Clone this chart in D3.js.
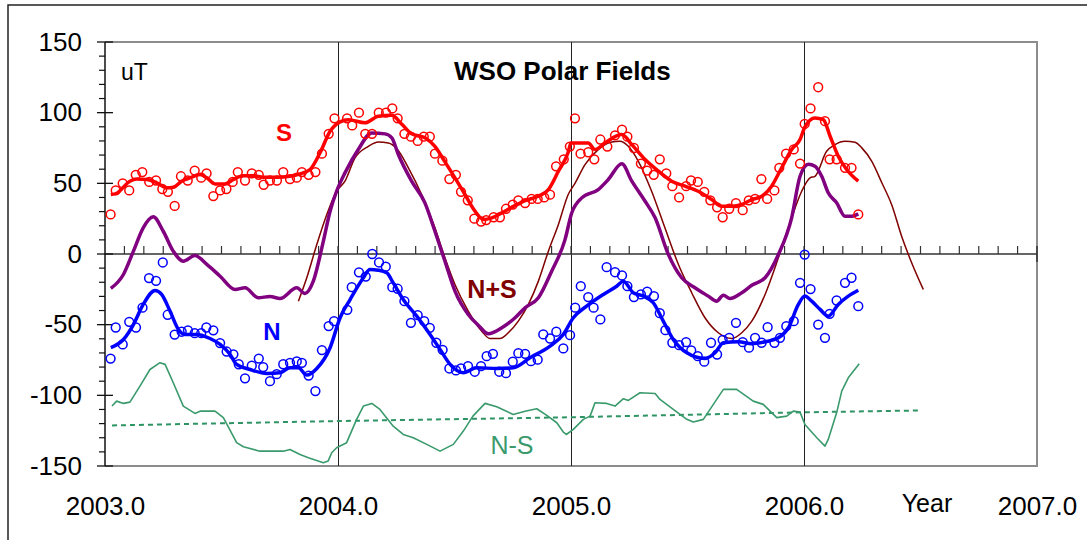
<!DOCTYPE html>
<html><head><meta charset="utf-8">
<script src="https://cdn.jsdelivr.net/npm/d3@7"></script>
<style>
html,body{margin:0;padding:0;background:#fff;}
svg{display:block;font-family:"Liberation Sans",Arial,sans-serif;}
</style></head>
<body>
<svg id="chart" width="1087" height="540"></svg>
<script>
// ---------- data ----------
const sYears = [2003.024,2003.046,2003.076,2003.104,2003.132,2003.160,2003.190,2003.219,2003.246,2003.270,2003.299,2003.326,2003.355,2003.385,2003.413,2003.436,2003.465,2003.494,2003.521,2003.548,2003.570,2003.601,2003.630,2003.660,2003.681,2003.708,2003.738,2003.765,2003.794,2003.823,2003.845,2003.874,2003.903,2003.931,2003.960,2003.985,2004.039,2004.061,2004.090,2004.117,2004.146,2004.175,2004.206,2004.233,2004.256,2004.285,2004.313,2004.342,2004.368,2004.394,2004.416,2004.448,2004.478,2004.506,2004.528,2004.557,2004.585,2004.614,2004.636,2004.668,2004.695,2004.721,2004.750,2004.774,2004.803,2004.831,2004.857,2004.885,2004.910,2004.936,2004.969,2004.995,2005.017,2005.041,2005.074,2005.100,2005.126,2005.156,2005.189,2005.219,2005.242,2005.270,2005.300,2005.327,2005.355,2005.381,2005.409,2005.435,2005.464,2005.494,2005.515,2005.544,2005.572,2005.598,2005.627,2005.651,2005.679,2005.708,2005.737,2005.763,2005.790,2005.817,2005.842,2005.873,2005.894,2005.923,2005.956,2005.983,2006.003,2006.028,2006.061,2006.090,2006.110,2006.140,2006.176,2006.204,2006.233];
const sValues = [28,45,50,45,56,58,51,52,46,44,34,55,52,59,54,57,41,45,46,51,58,52,57,56,49,52,52,58,53,54,58,56,58,71,85,96,96,91,100,85,85,100,100,103,96,85,83,80,83,83,71,66,53,56,44,38,25,23,24,26,26,32,35,38,36,39,39,40,42,62,67,76,96,71,72,67,81,76,84,88,83,75,64,59,56,67,57,48,40,48,52,51,44,38,33,26,32,36,31,38,39,53,39,45,61,71,74,64,92,103,118,94,67,67,61,61,28];

const nYears = [2003.024,2003.046,2003.076,2003.104,2003.133,2003.161,2003.189,2003.219,2003.248,2003.269,2003.299,2003.329,2003.356,2003.385,2003.413,2003.435,2003.465,2003.494,2003.522,2003.551,2003.574,2003.601,2003.630,2003.660,2003.679,2003.708,2003.737,2003.765,2003.794,2003.823,2003.845,2003.874,2003.903,2003.931,2003.960,2003.983,2004.040,2004.059,2004.090,2004.119,2004.147,2004.176,2004.205,2004.233,2004.256,2004.285,2004.313,2004.342,2004.370,2004.394,2004.422,2004.449,2004.478,2004.506,2004.528,2004.558,2004.587,2004.614,2004.638,2004.665,2004.692,2004.721,2004.750,2004.774,2004.803,2004.828,2004.857,2004.881,2004.910,2004.937,2004.967,2004.996,2005.018,2005.042,2005.074,2005.097,2005.126,2005.153,2005.189,2005.219,2005.242,2005.270,2005.300,2005.327,2005.356,2005.381,2005.405,2005.435,2005.464,2005.494,2005.516,2005.544,2005.572,2005.601,2005.627,2005.651,2005.679,2005.708,2005.737,2005.764,2005.790,2005.818,2005.844,2005.873,2005.897,2005.924,2005.956,2005.983,2006.003,2006.028,2006.061,2006.090,2006.110,2006.140,2006.176,2006.204,2006.233];
const nValues = [-74,-52,-64,-48,-52,-38,-17,-19,-6,-43,-57,-55,-54,-56,-56,-52,-54,-63,-69,-71,-78,-88,-79,-74,-80,-90,-85,-78,-77,-76,-77,-86,-97,-68,-51,-47.5,-39.5,-23.5,-13,-16,0,-6,-9,-23.5,-24.6,-33.4,-48.7,-43.3,-47.5,-52.2,-62.8,-67.8,-81,-82.4,-81,-79.4,-83.3,-79.4,-72.3,-70.6,-83.3,-84.3,-76.2,-70.2,-70.6,-75.8,-74.8,-56.9,-59.8,-55,-66.8,-57.4,-38,-22.8,-30.5,-38,-46.3,-9.3,-12.9,-15.2,-22.8,-30.5,-28.6,-26.7,-29.8,-41.9,-53.9,-62.8,-64.5,-62.4,-68.2,-72.3,-76.2,-62.8,-71.1,-60.7,-59.3,-48.7,-62.4,-66.3,-59.3,-62.8,-51.8,-62.8,-59.3,-51.1,-47.5,-20.4,-0.4,-24.8,-49.9,-59.3,-42.3,-32.9,-20.4,-16.8,-36.9];

const sSmooth = [[2003.025,42],[2003.050,43],[2003.107,51.5],[2003.136,53],[2003.179,52.7],[2003.222,50.4],[2003.265,46.8],[2003.293,47.2],[2003.329,51.5],[2003.365,53.9],[2003.408,56.2],[2003.437,53.9],[2003.472,49.6],[2003.515,49.6],[2003.551,52.7],[2003.594,55.3],[2003.637,55.3],[2003.679,54.3],[2003.737,54.3],[2003.794,55],[2003.837,56.7],[2003.880,59.8],[2003.923,71.6],[2003.966,86.8],[2004.009,93.5],[2004.044,95],[2004.116,92.8],[2004.173,97.5],[2004.231,98.2],[2004.273,92],[2004.316,85],[2004.373,82.2],[2004.416,76.2],[2004.459,65.2],[2004.502,53.9],[2004.545,42.1],[2004.588,30.3],[2004.624,24.4],[2004.660,25.6],[2004.703,29.1],[2004.746,33.1],[2004.803,37.8],[2004.860,40.9],[2004.903,45.6],[2004.946,58.6],[2004.988,72],[2005.000,78.6],[2005.074,78.6],[2005.103,73.9],[2005.146,78.6],[2005.218,84.5],[2005.261,77.4],[2005.318,66.8],[2005.375,58.6],[2005.432,51.5],[2005.489,48],[2005.546,44.4],[2005.604,38.5],[2005.647,33.8],[2005.690,33.8],[2005.733,35],[2005.776,38.5],[2005.819,40.9],[2005.861,48],[2005.904,61],[2005.947,73.9],[2005.983,81],[2006.004,90],[2006.047,96.3],[2006.083,95.1],[2006.112,83.3],[2006.147,69.2],[2006.183,59.8],[2006.233,51.5]];

const nSmooth = [[2003.025,-66.3],[2003.079,-60.5],[2003.122,-49.9],[2003.164,-35.7],[2003.215,-25.8],[2003.243,-28.6],[2003.279,-40.4],[2003.315,-53.4],[2003.343,-56.9],[2003.394,-56.9],[2003.451,-59.8],[2003.494,-64],[2003.537,-71.1],[2003.565,-78.1],[2003.622,-81.7],[2003.694,-84.5],[2003.751,-84],[2003.794,-80.5],[2003.830,-80.5],[2003.866,-85.7],[2003.909,-81],[2003.966,-66.3],[2004.009,-45.1],[2004.052,-32.2],[2004.109,-16.8],[2004.137,-11],[2004.173,-11.5],[2004.209,-13.3],[2004.237,-20.4],[2004.280,-32.2],[2004.338,-44],[2004.395,-56.9],[2004.438,-67.5],[2004.481,-78.1],[2004.538,-84],[2004.595,-80.5],[2004.681,-81],[2004.752,-80.5],[2004.824,-73.4],[2004.910,-65.2],[2004.967,-56.9],[2005.010,-45.1],[2005.067,-36.9],[2005.139,-28.6],[2005.196,-22.8],[2005.225,-19.2],[2005.267,-27.4],[2005.310,-29.8],[2005.353,-34.5],[2005.396,-47.5],[2005.439,-60.5],[2005.497,-69.9],[2005.575,-73.9],[2005.618,-69.9],[2005.654,-62.8],[2005.718,-62.1],[2005.776,-63.5],[2005.833,-62.1],[2005.890,-59.3],[2005.933,-52.2],[2005.976,-35.7],[2006.004,-29.8],[2006.033,-33.4],[2006.069,-39.2],[2006.104,-44],[2006.147,-35.7],[2006.190,-29.8],[2006.233,-25.6]];

const sumObserved = [[2003.025,-24.4],[2003.079,-14.5],[2003.122,2],[2003.164,18.5],[2003.207,26.3],[2003.250,16.1],[2003.293,2],[2003.336,-5.1],[2003.386,-1.1],[2003.437,-7.4],[2003.494,-15.7],[2003.558,-25.1],[2003.601,-23.9],[2003.658,-31],[2003.708,-30],[2003.751,-31.5],[2003.823,-23.9],[2003.858,-27.9],[2003.894,-19.2],[2003.937,9],[2003.966,30.3],[2003.994,44.4],[2004.030,57.4],[2004.087,73.9],[2004.145,85.7],[2004.202,85],[2004.231,82.2],[2004.259,70.4],[2004.316,51.5],[2004.373,36.2],[2004.416,16.1],[2004.459,-5.1],[2004.502,-26.3],[2004.559,-42.8],[2004.602,-50.4],[2004.645,-56.4],[2004.703,-52.2],[2004.760,-45.1],[2004.803,-38],[2004.860,-31],[2004.917,-12.2],[2004.974,10],[2005.003,29],[2005.046,39.7],[2005.117,45.6],[2005.160,52.7],[2005.218,63.8],[2005.261,51.5],[2005.318,37.3],[2005.361,25.6],[2005.418,-0.4],[2005.475,-16.8],[2005.532,-23.9],[2005.589,-29.8],[2005.625,-33.4],[2005.654,-29.1],[2005.682,-31.5],[2005.733,-27.4],[2005.776,-22.1],[2005.833,-16.8],[2005.890,-0.4],[2005.947,25.6],[2005.983,55],[2006.019,63.5],[2006.047,62.1],[2006.076,55],[2006.104,43.3],[2006.140,36.2],[2006.176,26.7],[2006.205,26.7],[2006.233,28.4]];

const sumModel = [[2003.830,-33.4],[2003.866,-16.8],[2003.909,6.7],[2003.952,27.9],[2003.994,44.4],[2004.030,51.5],[2004.073,68],[2004.130,76.2],[2004.173,79.3],[2004.216,78.6],[2004.252,74.6],[2004.302,61],[2004.359,42.1],[2004.416,18.5],[2004.459,-2.7],[2004.502,-21.6],[2004.559,-40.4],[2004.617,-54.6],[2004.652,-59.8],[2004.695,-59.8],[2004.731,-55.7],[2004.774,-47.5],[2004.817,-35.7],[2004.860,-19.2],[2004.903,2],[2004.946,20.9],[2004.988,42.1],[2005.017,50],[2005.060,63.3],[2005.117,73.9],[2005.175,79.3],[2005.210,79.8],[2005.246,76.2],[2005.289,65.6],[2005.346,44.4],[2005.403,18.5],[2005.461,-7.4],[2005.518,-27.4],[2005.575,-45.1],[2005.632,-55.7],[2005.690,-59.8],[2005.733,-55.7],[2005.776,-47.5],[2005.833,-28.6],[2005.890,-2.7],[2005.947,25.6],[2005.990,44.4],[2006.026,53.9],[2006.047,55],[2006.097,72.7],[2006.133,77.4],[2006.176,79.8],[2006.219,79.1],[2006.248,75.1],[2006.291,65.6],[2006.334,50.4],[2006.376,35],[2006.419,12.6],[2006.462,-6.2],[2006.512,-25.1]];

const diffObserved = [[2003.030,-107.6],[2003.050,-104.1],[2003.079,-105.7],[2003.107,-104.8],[2003.150,-93.5],[2003.193,-81.7],[2003.236,-76.9],[2003.258,-78.1],[2003.293,-91.1],[2003.336,-107.6],[2003.386,-112.8],[2003.408,-111.2],[2003.472,-111.2],[2003.508,-115.8],[2003.565,-133.5],[2003.594,-136.4],[2003.665,-139.5],[2003.765,-139.5],[2003.794,-138.3],[2003.837,-141.8],[2003.873,-144.1],[2003.937,-147.7],[2003.958,-146.4],[2003.973,-140.6],[2003.994,-137.1],[2004.037,-133.5],[2004.080,-117],[2004.109,-107.6],[2004.145,-105.7],[2004.180,-110],[2004.237,-121.8],[2004.280,-127.7],[2004.323,-130],[2004.381,-134.7],[2004.438,-139.5],[2004.495,-134.7],[2004.538,-125.3],[2004.579,-114.7],[2004.631,-105.7],[2004.681,-108.1],[2004.752,-113.5],[2004.803,-111.2],[2004.853,-109.5],[2004.896,-114.2],[2004.939,-119.4],[2004.967,-126],[2004.980,-127.7],[2005.010,-124.1],[2005.053,-117],[2005.082,-114.7],[2005.103,-105.2],[2005.153,-105.7],[2005.189,-107.6],[2005.225,-102.4],[2005.246,-103.6],[2005.296,-98.2],[2005.361,-98.7],[2005.382,-102.9],[2005.439,-110],[2005.497,-117],[2005.525,-118.9],[2005.568,-117],[2005.611,-106.4],[2005.654,-95.8],[2005.711,-95.8],[2005.782,-104.1],[2005.825,-106.4],[2005.883,-115.8],[2005.926,-114.7],[2005.954,-111.2],[2005.983,-111.9],[2006.004,-120.6],[2006.055,-130],[2006.090,-135.9],[2006.104,-131.2],[2006.140,-112.4],[2006.162,-97],[2006.190,-87.6],[2006.237,-77.7]];

const diffTrend = [[2003.030,-121.3],[2004.000,-118.2],[2005.000,-115.5],[2006.000,-112],[2006.498,-110.7]];

const yTickValues = [-150,-100,-50,0,50,100,150];
const xTickValues = [2003,2004,2005,2006,2007];
const xTickLabels = ["2003.0","2004.0","2005.0","2006.0","2007.0"];
const gridYears = [2004,2005,2006];

// ---------- layout ----------
const svg = d3.select("#chart");
const L = 105, R = 1037, T = 42, B = 466;
const x = d3.scaleLinear().domain([2003,2007]).range([L,R]);
const y = d3.scaleLinear().domain([-150,150]).range([B,T]);

// outer frame
svg.append("rect").attr("x",8).attr("y",5).attr("width",1200).attr("height",700)
  .attr("fill","none").attr("stroke","#222").attr("stroke-width",1.5);

// plot border (gray)
svg.append("path")
  .attr("d",`M${L},${T}H${R}V${B}H${L}`)
  .attr("fill","none").attr("stroke","#8c8c8c").attr("stroke-width",2);

// year grid lines
svg.selectAll(".grid").data(gridYears).enter().append("line")
  .attr("x1",d=>x(d)+0.5).attr("x2",d=>x(d)+0.5).attr("y1",T).attr("y2",B)
  .attr("stroke","#222").attr("stroke-width",1).attr("shape-rendering","crispEdges");

// zero line with monthly ticks
const y0 = y(0);
svg.append("line").attr("x1",L).attr("x2",R).attr("y1",y0).attr("y2",y0)
  .attr("stroke","#333").attr("stroke-width",1.3);
const months = d3.range(1,48).map(i=>2003+i/12);
svg.selectAll(".mt").data(months).enter().append("line")
  .attr("x1",d=>x(d)).attr("x2",d=>x(d))
  .attr("y1",y0-8).attr("y2",y0)
  .attr("stroke","#333").attr("stroke-width",1.2);
svg.append("line").attr("x1",x(2007)).attr("x2",x(2007)).attr("y1",y0-8).attr("y2",y0+8)
  .attr("stroke","#333").attr("stroke-width",1.5);

// left axis
svg.append("line").attr("x1",L).attr("x2",L).attr("y1",T).attr("y2",B).attr("stroke","#111").attr("stroke-width",1.5);
const minorY = d3.range(-150,151,10).filter(v=>v%50!==0);
svg.selectAll(".ym").data(minorY).enter().append("line")
  .attr("x1",L-6).attr("x2",L).attr("y1",d=>y(d)).attr("y2",d=>y(d))
  .attr("stroke","#111").attr("stroke-width",1.2);
svg.selectAll(".yM").data(yTickValues).enter().append("line")
  .attr("x1",L-8).attr("x2",L+8).attr("y1",d=>y(d)).attr("y2",d=>y(d))
  .attr("stroke","#111").attr("stroke-width",1.3);

const yAxis = d3.axisLeft(y).tickValues(yTickValues).tickSize(0).tickPadding(23).tickFormat(d=>String(d));
const gy = svg.append("g").attr("transform",`translate(${L},0)`).call(yAxis);
gy.select(".domain").remove();
gy.selectAll("text").attr("font-size",26).attr("fill","#000")
  .attr("font-family",'"Liberation Sans",Arial,sans-serif');

// bottom labels
const xAxis = d3.axisBottom(x).tickValues(xTickValues).tickSize(0).tickPadding(31)
  .tickFormat((d,i)=>xTickLabels[i]);
const gx = svg.append("g").attr("transform",`translate(0,${B})`).call(xAxis);
gx.select(".domain").remove();
gx.selectAll("text").attr("font-size",26).attr("fill","#000")
  .attr("font-family",'"Liberation Sans",Arial,sans-serif');

svg.append("text").attr("x",927).attr("y",512).attr("text-anchor","middle")
  .attr("font-size",25).text("Year");

// ---------- series ----------
const line = d3.line().x(d=>x(d[0])).y(d=>y(d[1]));
const smooth = d3.line().x(d=>x(d[0])).y(d=>y(d[1])).curve(d3.curveMonotoneX);

svg.append("path").datum(diffTrend).attr("d",line).attr("fill","none")
  .attr("stroke","#2e9464").attr("stroke-width",2).attr("stroke-dasharray","5,4");
svg.append("path").datum(diffObserved).attr("d",line).attr("fill","none")
  .attr("stroke","#3a9a6c").attr("stroke-width",1.6).attr("stroke-linejoin","round");

svg.append("path").datum(sumModel).attr("d",smooth).attr("fill","none")
  .attr("stroke","#800000").attr("stroke-width",1.5);
svg.append("path").datum(sumObserved).attr("d",smooth).attr("fill","none")
  .attr("stroke","#800080").attr("stroke-width",3.5).attr("stroke-linejoin","round");

svg.append("path").datum(sSmooth).attr("d",smooth).attr("fill","none")
  .attr("stroke","#ff0000").attr("stroke-width",3.5).attr("stroke-linejoin","round");
svg.append("path").datum(nSmooth).attr("d",smooth).attr("fill","none")
  .attr("stroke","#0000ff").attr("stroke-width",3.5).attr("stroke-linejoin","round");

svg.selectAll(".sp").data(sYears).enter().append("circle")
  .attr("cx",d=>x(d)).attr("cy",(d,i)=>y(sValues[i])).attr("r",4.4)
  .attr("fill","none").attr("stroke","#ff0000").attr("stroke-width",1.5);
svg.selectAll(".np").data(nYears).enter().append("circle")
  .attr("cx",d=>x(d)).attr("cy",(d,i)=>y(nValues[i])).attr("r",4.4)
  .attr("fill","none").attr("stroke","#0000ff").attr("stroke-width",1.5);

// ---------- labels ----------
svg.append("text").attr("x",121).attr("y",80).attr("font-size",23).text("uT");
svg.append("text").attr("x",454).attr("y",80).attr("font-size",26).attr("font-weight","bold").text("WSO Polar Fields");
svg.append("text").attr("x",284).attr("y",141).attr("text-anchor","middle").attr("font-size",24)
  .attr("font-weight","bold").attr("fill","#ff0000").text("S");
svg.append("text").attr("x",272).attr("y",340).attr("text-anchor","middle").attr("font-size",24)
  .attr("font-weight","bold").attr("fill","#0000ff").text("N");
svg.append("text").attr("x",492).attr("y",298).attr("text-anchor","middle").attr("font-size",25)
  .attr("font-weight","bold").attr("fill","#800000").text("N+S");
svg.append("text").attr("x",512).attr("y",454).attr("text-anchor","middle").attr("font-size",25)
  .attr("fill","#3a9a6c").text("N-S");
</script>
</body></html>
